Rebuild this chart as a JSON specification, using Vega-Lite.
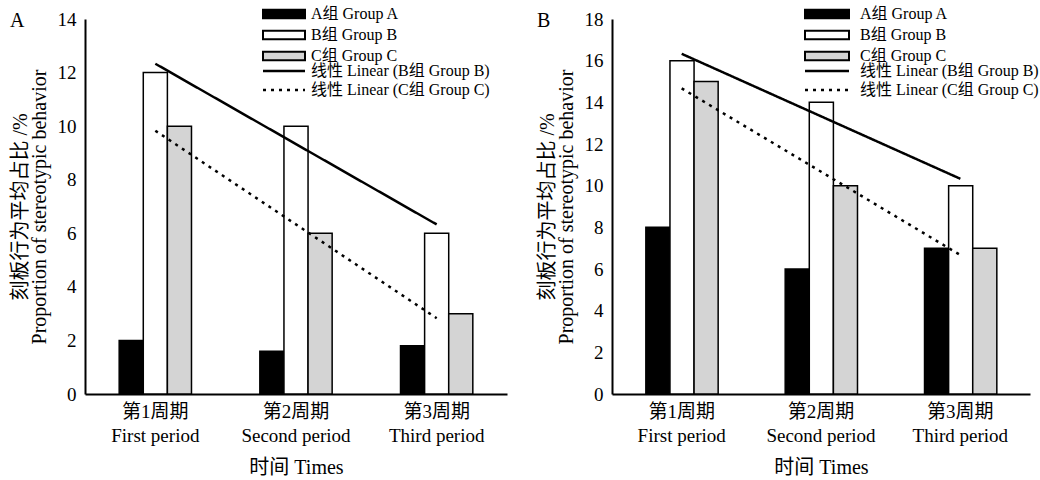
{
  "$schema": "https://vega.github.io/schema/vega-lite/v6.json",
  "background": "white",
  "padding": {"left": 10, "top": 6, "right": 0, "bottom": 0},
  "spacing": 30,
  "config": {
    "view": {"stroke": null},
    "font": "Liberation Serif, Noto Sans CJK SC",
    "axis": {
      "domainColor": "black", "domainWidth": 2, "ticks": false, "grid": false,
      "labelColor": "black", "labelFontSize": 19, "labelFont": "Liberation Serif, Noto Sans CJK SC",
      "titleFont": "Liberation Serif, Noto Sans CJK SC", "titleFontSize": 20, "titleFontWeight": "normal", "titleColor": "black"
    },
    "legend": {
      "labelFont": "Liberation Serif, Noto Sans CJK SC", "labelFontSize": 16, "labelColor": "black",
      "labelLimit": 400, "padding": 0, "symbolStrokeColor": "black", "symbolOpacity": 1, "labelOffset": 19, "rowPadding": 3
    },
    "title": {"font": "Liberation Serif", "fontSize": 20, "fontWeight": "normal", "color": "black", "anchor": "start", "frame": "bounds", "offset": -25}
  },
  "resolve": {"scale": {"y": "independent", "x": "independent", "fill": "independent", "strokeDash": "independent"}, "legend": {"fill": "independent", "strokeDash": "independent"}},
  "hconcat": [
    {
      "width": 422, "height": 375,
      "title": {"text": "A"},
      "layer": [
        {
          "data": {"values": [
            {"period": "第1周期|First period", "group": "A组 Group A", "value": 2},
            {"period": "第1周期|First period", "group": "B组 Group B", "value": 12},
            {"period": "第1周期|First period", "group": "C组 Group C", "value": 10},
            {"period": "第2周期|Second period", "group": "A组 Group A", "value": 1.6},
            {"period": "第2周期|Second period", "group": "B组 Group B", "value": 10},
            {"period": "第2周期|Second period", "group": "C组 Group C", "value": 6},
            {"period": "第3周期|Third period", "group": "A组 Group A", "value": 1.8},
            {"period": "第3周期|Third period", "group": "B组 Group B", "value": 6},
            {"period": "第3周期|Third period", "group": "C组 Group C", "value": 3}
          ]},
          "mark": {"type": "bar", "stroke": "black", "strokeWidth": 1.5},
          "encoding": {
            "x": {"field": "period", "type": "nominal", "sort": null,
                  "scale": {"paddingInner": 0.486, "paddingOuter": 0.243},
                  "axis": {"labelExpr": "split(datum.label, '|')", "labelAngle": 0, "labelPadding": 8, "labelLineHeight": 24, "title": "时间 Times", "titlePadding": 12}},
            "xOffset": {"field": "group", "type": "nominal", "sort": null, "scale": {"paddingInner": 0, "paddingOuter": 0}},
            "y": {"field": "value", "type": "quantitative", "scale": {"domain": [0, 14], "nice": false},
                  "axis": {"values": [0, 2, 4, 6, 8, 10, 12, 14], "labelPadding": 9, "title": ["刻板行为平均占比 /%", "Proportion of stereotypic behavior"], "titleLineHeight": 19, "titlePadding": 8}},
            "fill": {"field": "group", "type": "nominal", "sort": null,
                     "scale": {"domain": ["A组 Group A", "B组 Group B", "C组 Group C"], "range": ["black", "white", "#d4d4d4"]},
                     "legend": {"title": null, "orient": "none", "legendX": 191, "legendY": -13, "symbolType": "M-5.25,-1.05H5.25V1.05H-5.25Z", "symbolSize": 64, "symbolStrokeWidth": 2, "symbolStrokeColor": "black"}}
          }
        },
        {
          "data": {"values": [
            {"period": "第1周期|First period", "series": "线性 Linear (B组 Group B)", "value": 12.33},
            {"period": "第3周期|Third period", "series": "线性 Linear (B组 Group B)", "value": 6.33},
            {"period": "第1周期|First period", "series": "线性 Linear (C组 Group C)", "value": 9.83},
            {"period": "第3周期|Third period", "series": "线性 Linear (C组 Group C)", "value": 2.83}
          ]},
          "mark": {"type": "line", "stroke": "black", "strokeWidth": 2.5},
          "encoding": {
            "x": {"field": "period", "type": "nominal", "sort": null},
            "y": {"field": "value", "type": "quantitative"},
            "strokeDash": {"field": "series", "type": "nominal", "sort": null,
                           "scale": {"domain": ["线性 Linear (B组 Group B)", "线性 Linear (C组 Group C)"], "range": [[1, 0], [3, 5]]},
                           "legend": {"title": null, "orient": "none", "legendX": 191, "legendY": 44, "symbolType": "M-5.25,0H5.25", "symbolSize": 64, "symbolStrokeWidth": 2.5, "symbolStrokeColor": "black"}}
          }
        }
      ]
    },
    {
      "width": 418, "height": 375,
      "title": {"text": "B"},
      "layer": [
        {
          "data": {"values": [
            {"period": "第1周期|First period", "group": "A组 Group A", "value": 8},
            {"period": "第1周期|First period", "group": "B组 Group B", "value": 16},
            {"period": "第1周期|First period", "group": "C组 Group C", "value": 15},
            {"period": "第2周期|Second period", "group": "A组 Group A", "value": 6},
            {"period": "第2周期|Second period", "group": "B组 Group B", "value": 14},
            {"period": "第2周期|Second period", "group": "C组 Group C", "value": 10},
            {"period": "第3周期|Third period", "group": "A组 Group A", "value": 7},
            {"period": "第3周期|Third period", "group": "B组 Group B", "value": 10},
            {"period": "第3周期|Third period", "group": "C组 Group C", "value": 7}
          ]},
          "mark": {"type": "bar", "stroke": "black", "strokeWidth": 1.5},
          "encoding": {
            "x": {"field": "period", "type": "nominal", "sort": null,
                  "scale": {"paddingInner": 0.486, "paddingOuter": 0.243},
                  "axis": {"labelExpr": "split(datum.label, '|')", "labelAngle": 0, "labelPadding": 8, "labelLineHeight": 24, "title": "时间 Times", "titlePadding": 12}},
            "xOffset": {"field": "group", "type": "nominal", "sort": null, "scale": {"paddingInner": 0, "paddingOuter": 0}},
            "y": {"field": "value", "type": "quantitative", "scale": {"domain": [0, 18], "nice": false},
                  "axis": {"values": [0, 2, 4, 6, 8, 10, 12, 14, 16, 18], "labelPadding": 9, "title": ["刻板行为平均占比 /%", "Proportion of stereotypic behavior"], "titleLineHeight": 19, "titlePadding": 8}},
            "fill": {"field": "group", "type": "nominal", "sort": null,
                     "scale": {"domain": ["A组 Group A", "B组 Group B", "C组 Group C"], "range": ["black", "white", "#d4d4d4"]},
                     "legend": {"title": null, "orient": "none", "legendX": 207, "legendY": -13, "labelOffset": 25, "symbolType": "M-5.5,-1.05H5.5V1.05H-5.5Z", "symbolSize": 64, "symbolStrokeWidth": 2, "symbolStrokeColor": "black"}}
          }
        },
        {
          "data": {"values": [
            {"period": "第1周期|First period", "series": "线性 Linear (B组 Group B)", "value": 16.33},
            {"period": "第3周期|Third period", "series": "线性 Linear (B组 Group B)", "value": 10.33},
            {"period": "第1周期|First period", "series": "线性 Linear (C组 Group C)", "value": 14.67},
            {"period": "第3周期|Third period", "series": "线性 Linear (C组 Group C)", "value": 6.67}
          ]},
          "mark": {"type": "line", "stroke": "black", "strokeWidth": 2.5},
          "encoding": {
            "x": {"field": "period", "type": "nominal", "sort": null},
            "y": {"field": "value", "type": "quantitative"},
            "strokeDash": {"field": "series", "type": "nominal", "sort": null,
                           "scale": {"domain": ["线性 Linear (B组 Group B)", "线性 Linear (C组 Group C)"], "range": [[1, 0], [3, 5]]},
                           "legend": {"title": null, "orient": "none", "legendX": 207, "legendY": 44, "labelOffset": 25, "symbolType": "M-5.5,0H5.5", "symbolSize": 64, "symbolStrokeWidth": 2.5, "symbolStrokeColor": "black"}}
          }
        }
      ]
    }
  ]
}
